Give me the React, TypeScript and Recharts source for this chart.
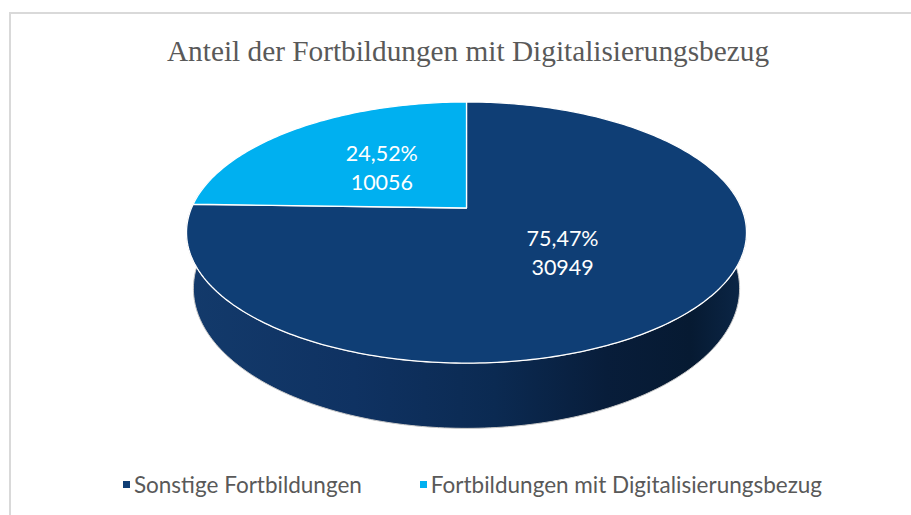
import { PieChart, Pie, Cell, Legend } from "recharts";

const categories = ["Sonstige Fortbildungen", "Fortbildungen mit Digitalisierungsbezug"];
const counts = [30949, 10056];
const percentLabels = ["75,47%", "24,52%"];
const sliceColors = ["#0f3e75", "#00b0f0"];

const data = categories.map((name, i) => ({ name, value: counts[i] }));

const RAD = Math.PI / 180;
// tilted disc, rough perspective (back is farther away)
const K_TOP = 0.188;
const TILT_TOP = 0.458;
const K_BOT = 0.19;
const TILT_BOT = 0.49;
const SHRINK_BOT = 0.975;
const DEPTH = 54;

const topPoint = (cx: number, cy: number, r: number, ang: number, frac = 1) => {
  const u = Math.cos(ang * RAD) * frac;
  const v = Math.sin(ang * RAD) * frac;
  const d = 1 + K_TOP * v;
  return [cx + (r * u) / d, cy - (r * TILT_TOP * v) / d];
};

const bottomPoint = (cx: number, cy: number, r: number, ang: number) => {
  const u = Math.cos(ang * RAD);
  const v = Math.sin(ang * RAD);
  const d = 1 + K_BOT * v;
  return [cx + (r * SHRINK_BOT * u) / d, cy + DEPTH - (r * TILT_BOT * v) / d];
};

const arc = (from: number, to: number) => {
  const n = Math.max(2, Math.ceil(Math.abs(to - from)));
  const out: number[] = [];
  for (let i = 0; i <= n; i++) out.push(from + ((to - from) * i) / n);
  return out;
};

const toPath = (pts: number[][]) =>
  pts.map((p, i) => `${i ? "L" : "M"}${p[0].toFixed(2)},${p[1].toFixed(2)}`).join(" ") + " Z";

const wallStops = [
  [
    ["0", "#133a6b"],
    ["0.3", "#0f3262"],
    ["0.55", "#0b2a52"],
    ["0.75", "#081d3a"],
    ["0.9", "#061a32"],
    ["1", "#0c2748"],
  ],
  [
    ["0", "#0098d4"],
    ["1", "#006a96"],
  ],
];

const WallShape = (props: any) => {
  const { cx, cy, outerRadius, startAngle, endAngle, index } = props;
  const lo = Math.max(Math.min(startAngle, endAngle), -195);
  const hi = Math.min(Math.max(startAngle, endAngle), 15);
  if (hi <= lo) return <g />;
  const angles = arc(lo, hi);
  const top = angles.map((a) => topPoint(cx, cy, outerRadius, a));
  const bot = angles.map((a) => bottomPoint(cx, cy, outerRadius, a)).reverse();
  const id = `wall-grad-${index}`;
  return (
    <g>
      <defs>
        <linearGradient id={id} gradientUnits="userSpaceOnUse" x1={cx - outerRadius * 1.02} y1={0} x2={cx + outerRadius * 1.02} y2={0}>
          {wallStops[index].map(([o, c]) => (
            <stop key={o} offset={o} stopColor={c} />
          ))}
        </linearGradient>
      </defs>
      <path d={toPath([...top, ...bot])} fill={`url(#${id})`} stroke="#c9c9c9" strokeWidth={1} />
    </g>
  );
};

const TopShape = (props: any) => {
  const { cx, cy, outerRadius, startAngle, endAngle, fill } = props;
  const rim = arc(startAngle, endAngle).map((a) => topPoint(cx, cy, outerRadius, a));
  return (
    <path
      d={toPath([[cx, cy], ...rim])}
      fill={fill}
      stroke="#ffffff"
      strokeWidth={1.3}
      strokeLinejoin="round"
    />
  );
};

const renderLabel = (props: any) => {
  const { cx, cy, outerRadius, midAngle, index } = props;
  const [x, y] = topPoint(cx, cy, outerRadius, midAngle, 0.47);
  return (
    <g>
      <text x={x} y={y - 7.5} textAnchor="middle" fill="#ffffff" fontSize={21.5} fontFamily="Lato">
        {percentLabels[index]}
      </text>
      <text x={x} y={y + 21.5} textAnchor="middle" fill="#ffffff" fontSize={21.5} fontFamily="Lato">
        {counts[index]}
      </text>
    </g>
  );
};

const ChartLegend = () => (
  <div style={{ display: "flex", justifyContent: "center", gap: 58, paddingLeft: 34, fontFamily: "Lato", fontSize: 22.5, color: "#595959" }}>
    {categories.map((c, i) => (
      <div key={c} style={{ display: "flex", alignItems: "center" }}>
        <span style={{ width: 7, height: 7, background: sliceColors[i], marginRight: 4, display: "inline-block" }} />
        <span>{c}</span>
      </div>
    ))}
  </div>
);

export default function App() {
  return (
    <div style={{ position: "fixed", left: 0, top: 0, width: 911, height: 515, background: "#fff" }}>
      <div
        style={{
          position: "absolute",
          left: 9,
          top: 12,
          width: 902,
          height: 503,
          borderTop: "2px solid #d9d9d9",
          borderLeft: "2px solid #d9d9d9",
        }}
      />
      <svg width={911} height={80} style={{ position: "absolute", left: 0, top: 0 }}>
        <text x={468} y={61} textAnchor="middle" fill="#595959" fontSize={29.3} fontFamily="'Liberation Serif', 'Times New Roman', serif">
          Anteil der Fortbildungen mit Digitalisierungsbezug
        </text>
      </svg>
      <div style={{ position: "absolute", left: 0, top: 0 }}>
        <PieChart width={911} height={515} margin={{ top: 0, right: 0, bottom: 0, left: 0 }}>
          <Pie
            data={data}
            dataKey="value"
            nameKey="name"
            cx={466.5}
            cy={208}
            outerRadius={275}
            startAngle={90}
            endAngle={-270}
            stroke="none"
            legendType="none"
            isAnimationActive={false}
            shape={WallShape}
          />
          <Pie
            data={data}
            dataKey="value"
            nameKey="name"
            cx={466.5}
            cy={208}
            outerRadius={275}
            startAngle={90}
            endAngle={-270}
            isAnimationActive={false}
            shape={TopShape}
            label={renderLabel}
            labelLine={false}
          >
            {data.map((d, i) => (
              <Cell key={d.name} fill={sliceColors[i]} />
            ))}
          </Pie>
          <Legend
            content={<ChartLegend />}
            wrapperStyle={{ position: "absolute", left: 0, top: 471, width: 911, height: 30 }}
          />
        </PieChart>
      </div>
    </div>
  );
}
